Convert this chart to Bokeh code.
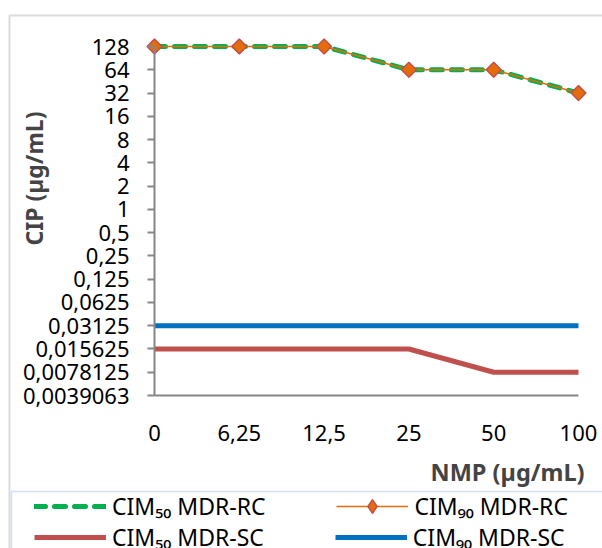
import math
from bokeh.plotting import figure
from bokeh.models import (Range1d, FixedTicker, Label, Legend, LegendItem,
                          BoxAnnotation)
from bokeh.embed import file_html
from bokeh.resources import INLINE

# NMP concentrations (category labels on the x axis)
nmp_labels = ["0", "6,25", "12,5", "25", "50", "100"]

# CIP values (µg/mL) for each series
cim50_rc = [128, 128, 128, 64, 64, 32]
cim90_rc = [128, 128, 128, 64, 64, 32]
cim50_sc = [0.015625, 0.015625, 0.015625, 0.015625, 0.0078125, 0.0078125]
cim90_sc = [0.03125, 0.03125, 0.03125, 0.03125, 0.03125, 0.03125]

# log2 tick positions and their printed labels
cip_ticks = [0.00390625, 0.0078125, 0.015625, 0.03125, 0.0625, 0.125, 0.25,
             0.5, 1, 2, 4, 8, 16, 32, 64, 128]
cip_tick_labels = ["0,0039063", "0,0078125", "0,015625", "0,03125", "0,0625",
                   "0,125", "0,25", "0,5", "1", "2", "4", "8", "16", "32",
                   "64", "128"]

FONT = "Noto Sans"
FS = "22px"
AXIS_GRAY = "#868686"
GREEN, ORANGE, RED, BLUE = "#00B050", "#E46C0A", "#C0504D", "#0070C0"

# page geometry (pixels): the plotting area occupies the whole canvas and the
# axes are pinned at the edges of the data box
W, H = 602, 548
BOX_L, BOX_R, BOX_T, BOX_B = 154, 578, 46, 395

xs = list(range(len(nmp_labels)))
ux = (BOX_R - BOX_L) / (xs[-1] - xs[0])
x_range = Range1d(xs[0] - BOX_L / ux, xs[-1] + (W - BOX_R) / ux)

lo, hi = math.log2(cip_ticks[0]), math.log2(cip_ticks[-1])
uy = (BOX_B - BOX_T) / (hi - lo)
y_range = Range1d(2 ** (lo - (H - BOX_B) / uy), 2 ** (hi + BOX_T / uy))

p = figure(width=W, height=H, output_backend="svg", toolbar_location=None,
           y_axis_type="log", x_range=x_range, y_range=y_range,
           min_border=0, title=None)
p.background_fill_color = "white"
p.border_fill_color = "white"
p.outline_line_color = None
p.grid.visible = False

# axes, pinned to the data box
xa, ya = p.xaxis[0], p.yaxis[0]
xa.fixed_location = cip_ticks[0]
xa.bounds = (xs[0], xs[-1])
ya.fixed_location = xs[0]
ya.bounds = (cip_ticks[0], cip_ticks[-1])
xa.ticker = FixedTicker(ticks=xs)
xa.major_label_overrides = {i: s for i, s in zip(xs, nmp_labels)}
ya.ticker = FixedTicker(ticks=cip_ticks)
ya.major_label_overrides = {t: s for t, s in zip(cip_ticks, cip_tick_labels)}
for ax in (xa, ya):
    ax.axis_line_color = AXIS_GRAY
    ax.axis_line_width = 2
    ax.major_tick_line_color = AXIS_GRAY
    ax.major_tick_line_width = 2
    ax.minor_tick_line_color = None
    ax.major_label_text_font = FONT
    ax.major_label_text_font_size = FS
    ax.major_label_text_color = "black"
xa.major_tick_out = 0
xa.major_tick_in = 0
xa.major_label_standoff = 29
ya.major_tick_out = 7
ya.major_tick_in = 0
ya.major_label_standoff = 18

# series
r_sc90 = p.line(xs, cim90_sc, line_color=BLUE, line_width=5)
r_sc50 = p.line(xs, cim50_sc, line_color=RED, line_width=5)
r_rc50 = p.line(xs, cim50_rc, line_color=GREEN, line_width=5,
                line_dash="11 9", line_cap="round")
r_rc90l = p.line(xs, cim90_rc, line_color=ORANGE, line_width=1.5)
r_rc90m = p.scatter(xs, cim90_rc, marker="square", angle=math.pi / 4,
                    size=10.5, fill_color=ORANGE, line_color=RED,
                    line_width=1.5)
# diamond key used only by the legend entry
r_rc90key = p.scatter(xs, cim90_rc, marker="diamond", fill_color=ORANGE,
                      line_color=RED, line_width=1.5, visible=False)

# axis titles
p.add_layout(Label(x=33, y=H - 178, x_units="screen", y_units="screen",
                   text="CIP (µg/mL)", angle=math.pi / 2, text_align="center",
                   text_baseline="middle", text_font=FONT,
                   text_font_size="23px", text_font_style="bold"))
p.add_layout(Label(x=584, y=H - 471, x_units="screen", y_units="screen",
                   text="NMP (µg/mL)", text_align="right",
                   text_baseline="middle", text_font=FONT,
                   text_font_size="23.5px", text_font_style="bold"))

# outer chart border and legend frame
p.add_layout(BoxAnnotation(left=9, right=W + 40, top=H - 15, bottom=-40,
                           left_units="screen", right_units="screen",
                           top_units="screen", bottom_units="screen",
                           fill_color=None, line_color="#898989",
                           line_width=2, level="underlay"))
p.add_layout(BoxAnnotation(left=11, right=W + 40, top=H - 491, bottom=-40,
                           left_units="screen", right_units="screen",
                           top_units="screen", bottom_units="screen",
                           fill_color=None, line_color="#6F97D0",
                           line_width=1.5, level="underlay"))


# legend, two rows of two entries
def add_legend_row(items, center):
    height = 34
    leg = Legend(items=items, orientation="horizontal",
                 location=(34, H - center - height / 2),
                 glyph_width=72, glyph_height=height, label_height=height,
                 label_standoff=6, spacing=71, padding=0, margin=0,
                 border_line_color=None, background_fill_color=None,
                 label_text_font=FONT, label_text_font_size="23px",
                 label_text_color="black")
    p.add_layout(leg, "center")


add_legend_row([LegendItem(label="CIM₅₀ MDR-RC", renderers=[r_rc50]),
                LegendItem(label="CIM₉₀ MDR-RC",
                           renderers=[r_rc90l, r_rc90key])], 506)
add_legend_row([LegendItem(label="CIM₅₀ MDR-SC", renderers=[r_sc50]),
                LegendItem(label="CIM₉₀ MDR-SC", renderers=[r_sc90])], 537)

open("out.html", "w").write(file_html(p, INLINE))
